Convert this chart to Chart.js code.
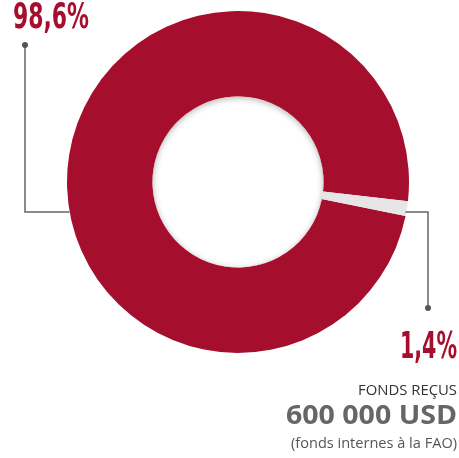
<!DOCTYPE html>
<html>
<head>
<meta charset="utf-8">
<script src="https://cdn.jsdelivr.net/npm/chart.js@4"></script>
<style>
  html, body { margin: 0; padding: 0; background: #fff; }
  #wrap { width: 459px; height: 458px; position: relative; }
</style>
</head>
<body>
<div id="wrap"><canvas id="donut" width="459" height="458"></canvas></div>
<script>
const labels = ['Autres financements', 'Fonds reçus'];
const shares = [98.6, 1.4];
const shareTexts = ['98,6%', '1,4%'];
const colors = ['#A50F2D', '#E6E6E6'];
const fundsTitle = 'FONDS REÇUS';
const fundsAmount = '600 000 USD';
const fundsNote = '(fonds internes à la FAO)';

const canvas = document.getElementById('donut');

// draw text squeezed to a given width (condensed look)
function fitText(ctx, text, x, y, width, font, color, align) {
    ctx.save();
    ctx.font = font;
    ctx.fillStyle = color;
    ctx.textBaseline = 'alphabetic';
    const w = ctx.measureText(text).width;
    const s = width / w;
    const left = align === 'right' ? x - width : x;
    ctx.translate(left, y);
    ctx.scale(s, 1);
    ctx.textAlign = 'left';
    ctx.fillText(text, 0, 0);
    ctx.restore();
}

const extras = {
    id: 'extras',
    afterDatasetsDraw(chart) {
        const ctx = chart.ctx;
        const arc = chart.getDatasetMeta(0).data[0];
        const cx = arc.x, cy = arc.y;
        const rOut = arc.outerRadius, rIn = arc.innerRadius;

        // soft inner shadow in the hole
        ctx.save();
        ctx.beginPath();
        ctx.arc(cx, cy, rIn, 0, Math.PI * 2);
        ctx.clip();
        ctx.shadowColor = 'rgba(0,0,0,0.3)';
        ctx.shadowBlur = 6;
        ctx.shadowOffsetX = 0;
        ctx.shadowOffsetY = 1.5;
        ctx.beginPath();
        ctx.arc(cx, cy, rIn + 10, 0, Math.PI * 2);
        ctx.lineWidth = 20;
        ctx.strokeStyle = '#fff';
        ctx.stroke();
        ctx.restore();

        // leader lines
        const ly = cy + 30;
        const dx = Math.sqrt(rOut * rOut - 30 * 30);
        ctx.save();
        ctx.strokeStyle = '#666';
        ctx.fillStyle = '#555';
        ctx.lineWidth = 1.5;
        ctx.beginPath();
        ctx.moveTo(25, 45);
        ctx.lineTo(25, ly);
        ctx.lineTo(cx - dx, ly);
        ctx.stroke();
        ctx.beginPath();
        ctx.moveTo(cx + dx - 1, ly);
        ctx.lineTo(428, ly);
        ctx.lineTo(428, 308);
        ctx.stroke();
        ctx.beginPath();
        ctx.arc(25, 45, 3, 0, Math.PI * 2);
        ctx.arc(428, 308, 3, 0, Math.PI * 2);
        ctx.fill();
        ctx.restore();

        // labels
        const numFont = '"Liberation Sans Narrow", "DejaVu Sans Condensed", "DejaVu Sans"';
        fitText(ctx, shareTexts[0], 13, 28, 76, 'bold 36px ' + numFont, colors[0], 'left');
        fitText(ctx, shareTexts[1], 457, 358, 57, 'bold 38px ' + numFont, colors[0], 'right');
        fitText(ctx, fundsTitle, 457, 395, 99, '15px "Open Sans"', '#333', 'right');
        fitText(ctx, fundsAmount, 457, 424, 171, 'bold 26px "Open Sans"', '#666', 'right');
        fitText(ctx, fundsNote, 457, 448, 166, '14px "Open Sans"', '#555', 'right');
    }
};

new Chart(canvas, {
    type: 'doughnut',
    data: {
        labels: labels,
        datasets: [{
            data: shares,
            backgroundColor: colors,
            borderWidth: 0
        }]
    },
    options: {
        responsive: false,
        animation: false,
        rotation: 101.5,
        cutout: '50%',
        layout: { padding: { left: 67, right: 50, top: 11, bottom: 105 } },
        plugins: {
            legend: { display: false },
            tooltip: { enabled: false }
        }
    },
    plugins: [extras]
});
</script>
</body>
</html>
